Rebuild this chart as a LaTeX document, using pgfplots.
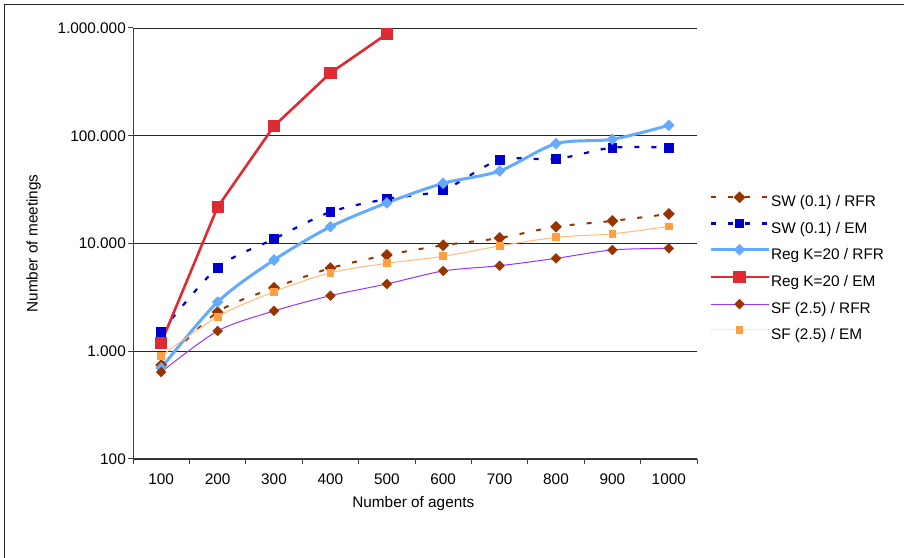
\documentclass[border=0pt]{standalone}
\usepackage{fontspec}
\setmainfont{Liberation Sans}
\usepackage{pgfplots}
\pgfplotsset{compat=1.18}
\definecolor{swrfr}{HTML}{993300}
\definecolor{swem}{HTML}{0000CC}
\definecolor{regrfr}{HTML}{66AAFF}
\definecolor{regem}{HTML}{DD2A33}
\definecolor{sfrfr}{HTML}{9933FF}
\definecolor{sfem}{HTML}{FFBB77}
\definecolor{sfemm}{HTML}{FF9F40}
\newcommand{\chartfont}{\fontsize{15.4}{17}\selectfont}
\begin{document}
\begin{tikzpicture}[x=1bp,y=1bp]
\useasboundingbox (0,0) rectangle (904,558);
\draw[line width=1bp, black!85] (4,0) -- (4,553) -- (904,553);
\begin{axis}[
  at={(133bp,99bp)}, anchor=south west, scale only axis,
  width=564bp, height=431bp,
  ymode=log, ymin=100, ymax=1000000, xmin=0.5, xmax=10.5,
  axis x line*=bottom, axis y line*=left,
  axis line style={-, black!75, line width=1bp},
  tick align=outside, major tick length=5bp,
  tick style={black!75, line width=1bp},
  xtick={0.5,1.5,...,10.5}, xticklabels={},
  extra x ticks={1,2,3,4,5,6,7,8,9,10},
  extra x tick labels={100,200,300,400,500,600,700,800,900,1000},
  extra x tick style={major tick length=0pt, grid=none},
  ytick={100,1000,10000,100000,1000000},
  yticklabels={100,1.000,10.000,100.000,1.000.000},
  yminorticks=false,
  ymajorgrids, grid style={black!85, line width=0.9bp},
  /pgf/number format/assume math mode=true,
  ticklabel style={font=\chartfont},
  xticklabel style={anchor=north, inner sep=0pt, yshift=-15bp},
  yticklabel style={anchor=east, inner sep=0pt, xshift=-2bp},
  xlabel={Number of agents}, ylabel={Number of meetings},
  label style={font=\chartfont},
  xlabel style={at={(axis description cs:0.497,-0.1114)}, anchor=base, inner sep=0pt},
  ylabel style={at={(axis description cs:-0.1693,0.5)}, anchor=base, inner sep=0pt},
  legend style={draw=none, fill=none, at={(axis description cs:1.0213,0.444)}, anchor=west,
    inner sep=0pt, outer sep=0pt, row sep=10bp, font=\chartfont,
    nodes={inner sep=0pt, text height=11bp, text depth=3bp},
    /tikz/every odd column/.append style={column sep=1bp}},
  legend cell align=left,
  legend image code/.code={\draw[mark repeat=2,mark phase=2,#1] plot coordinates {(0bp,5.5bp) (29bp,5.5bp) (58bp,5.5bp)};},
]
\addplot[swrfr, line width=2bp, dash pattern=on 5bp off 12bp, smooth,
  mark=square*, mark size=3.2bp, mark options={solid, rotate=45, fill=swrfr}]
  coordinates {(1,745) (2,2310) (3,3870) (4,5900) (5,7820) (6,9620) (7,11250) (8,14300) (9,16200) (10,18800)};
\addlegendentry{SW (0.1) / RFR}
\addplot[swem, line width=2.2bp, dash pattern=on 5bp off 12bp, smooth,
  mark=square*, mark size=3.8bp, mark options={solid, fill=swem}]
  coordinates {(1,1510) (2,5960) (3,11010) (4,19600) (5,25900) (6,31400) (7,59600) (8,60800) (9,77500) (10,77500)};
\addlegendentry{SW (0.1) / EM}
\addplot[regrfr, line width=3bp, smooth,
  mark=square*, mark size=2.6bp, mark options={solid, rotate=45, fill=regrfr}]
  coordinates {(1,700) (2,2865) (3,7030) (4,14300) (5,23800) (6,36200) (7,47100) (8,84400) (9,92700) (10,125000)};
\addlegendentry{Reg K=20 / RFR}
\addplot[regem, line width=2.6bp,
  mark=square*, mark size=4.8bp, mark options={solid, fill=regem}]
  coordinates {(1,1200) (2,21800) (3,123000) (4,382000) (5,880000)};
\addlegendentry{Reg K=20 / EM}
\addplot[sfrfr, line width=1bp, smooth,
  mark=square*, mark size=3.2bp, mark options={solid, rotate=45, draw=swrfr, fill=swrfr}]
  coordinates {(1,641) (2,1542) (3,2365) (4,3280) (5,4210) (6,5560) (7,6220) (8,7280) (9,8710) (10,9020)};
\addlegendentry{SF (2.5) / RFR}
\addplot[sfem, line width=1bp, smooth,
  mark=square*, mark size=3.4bp, mark options={solid, draw=sfemm, fill=sfemm}]
  coordinates {(1,903) (2,2093) (3,3570) (4,5350) (5,6550) (6,7600) (7,9490) (8,11400) (9,12300) (10,14400)};
\addlegendentry{SF (2.5) / EM}
\end{axis}
\end{tikzpicture}
\end{document}
